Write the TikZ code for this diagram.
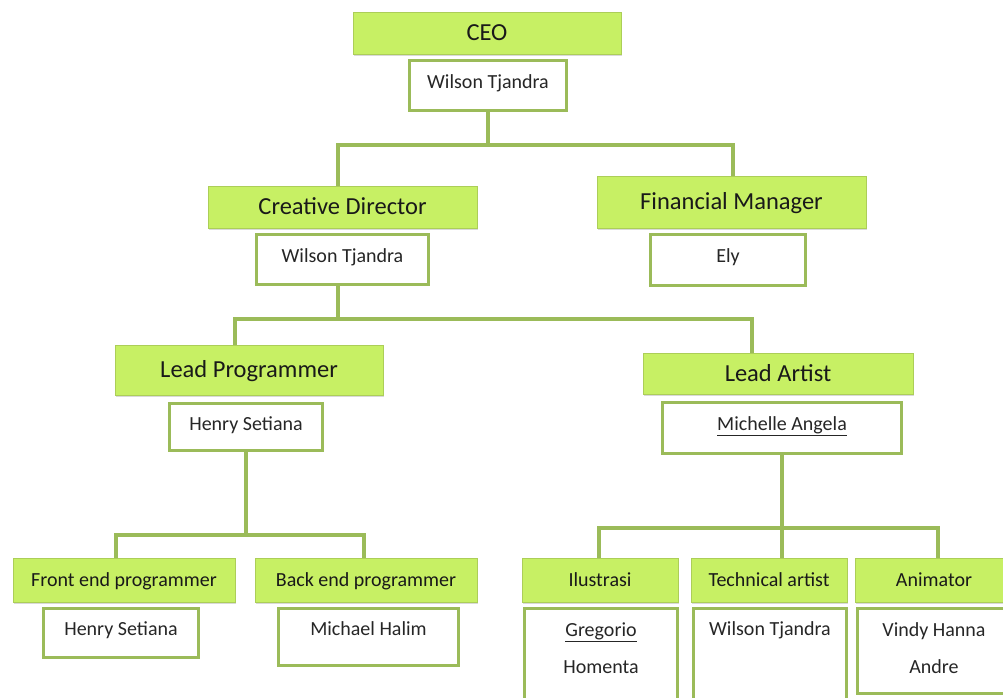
\documentclass[tikz,border=0pt]{standalone}
\usepackage{fontspec}
\setmainfont{Carlito}
\usetikzlibrary{positioning,shadows}
\definecolor{rolefill}{RGB}{199,240,100}
\definecolor{roleline}{RGB}{172,206,88}
\definecolor{linkgreen}{RGB}{155,187,89}
\newcommand{\bigrolefont}{\fontsize{24.5}{28}\selectfont}
\newcommand{\smallrolefont}{\fontsize{20}{24}\selectfont}
\newcommand{\namefont}{\fontsize{20}{37}\selectfont}
\tikzset{
  role/.style={draw=roleline, line width=0.6pt, fill=rolefill, text=black!90, inner sep=0pt,
    drop shadow={shadow xshift=1pt, shadow yshift=-2pt, opacity=0.3}},
  bigrole/.style={role, font=\bigrolefont, minimum height=42pt, text height=22pt, text depth=6.3pt},
  smallrole/.style={role, font=\smallrolefont, minimum height=44pt, text height=18pt, text depth=5.2pt},
  namebox/.style={draw=linkgreen, line width=3pt, fill=white, text=black!85, font=\namefont,
    align=center, inner xsep=0pt, inner ysep=0pt, text height=28pt, text depth=22pt},
  link/.style={draw=linkgreen, line width=3.5pt}
}

\begin{document}
\begin{tikzpicture}[x=1pt, y=-1pt]
\useasboundingbox (0,0) rectangle (1003,698);
% CEO
\node[bigrole, minimum width=268pt] (ceo) at (487,33) {CEO};
\node[namebox, minimum width=157pt, below=4.5pt of ceo, xshift=1pt] (ceoname) {Wilson Tjandra};
% second level
\node[bigrole, minimum width=269pt] (cd) at (342.5,207) {Creative Director};
\node[namebox, minimum width=172pt, below=4.5pt of cd] (cdname) {Wilson Tjandra};
\node[bigrole, minimum width=269pt, minimum height=52pt] (fm) at (731.5,202) {Financial Manager};
\node[namebox, minimum width=155pt, below=4.5pt of fm, xshift=-3.5pt, text depth=23pt] (fmname) {Ely};
% leads
\node[bigrole, minimum width=268pt, minimum height=50pt] (lp) at (249,370) {Lead Programmer};
\node[namebox, minimum width=153pt, below=6.5pt of lp, xshift=-3pt, text height=27pt, text depth=20pt] (lpname) {Henry Setiana};
\node[bigrole, minimum width=270pt, minimum height=41pt] (la) at (778,373.5) {Lead Artist};
\node[namebox, minimum width=239pt, below=6.5pt of la, xshift=4pt, text depth=23pt] (laname) {\underline{Michelle Angela}};
% programmers
\node[smallrole, minimum width=222pt] (fe) at (124,580) {Front end programmer};
\node[namebox, minimum width=155pt, below=4.5pt of fe, xshift=-3pt, text height=27pt] (fename) {Henry Setiana};
\node[smallrole, minimum width=222pt] (be) at (366,580) {Back end programmer};
\node[namebox, minimum width=180pt, below=4.5pt of be, xshift=2.5pt, text height=27pt, text depth=30pt] (bename) {Michael Halim};
% artists
\node[smallrole, minimum width=156pt] (il) at (600,580) {Ilustrasi};
\node[namebox, minimum width=153pt, below=4.5pt of il, xshift=1pt, text height=65pt, text depth=83pt] (ilname) {\underline{Gregorio}\\Homenta};
\node[smallrole, minimum width=156pt] (ta) at (769,580) {Technical artist};
\node[namebox, minimum width=153pt, below=4.5pt of ta, xshift=1pt, text height=27pt, text depth=120pt] (taname) {Wilson Tjandra};
\node[smallrole, minimum width=158pt] (an) at (934,580) {Animator};
\node[namebox, minimum width=153pt, below=4.5pt of an, text height=65pt, text depth=20pt] (anname) {Vindy Hanna\\Andre};
% connectors
\coordinate (b1l) at (338,145);
\coordinate (b1r) at (733,145);
\draw[link] (ceoname) -- (ceoname |- b1l);
\draw[link] (b1l |- cd.north) -- (b1l) -- (b1r) -- (b1r |- fm.north);
\coordinate (b2l) at (235,319);
\coordinate (b2r) at (752,319);
\draw[link] (b1l |- cdname.south) -- (b1l |- b2l);
\draw[link] (b2l |- lp.north) -- (b2l) -- (b2r) -- (b2r |- la.north);
\coordinate (b3l) at (116,535);
\coordinate (b3r) at (364,535);
\draw[link] (lpname) -- (lpname |- b3l);
\draw[link] (b3l |- fe.north) -- (b3l) -- (b3r) -- (b3r |- be.north);
\coordinate (b4l) at (599,528);
\coordinate (b4r) at (938,528);
\draw[link] (laname) -- (laname |- ta.north);
\draw[link] (b4l |- il.north) -- (b4l) -- (b4r) -- (b4r |- an.north);
\end{tikzpicture}
\end{document}
